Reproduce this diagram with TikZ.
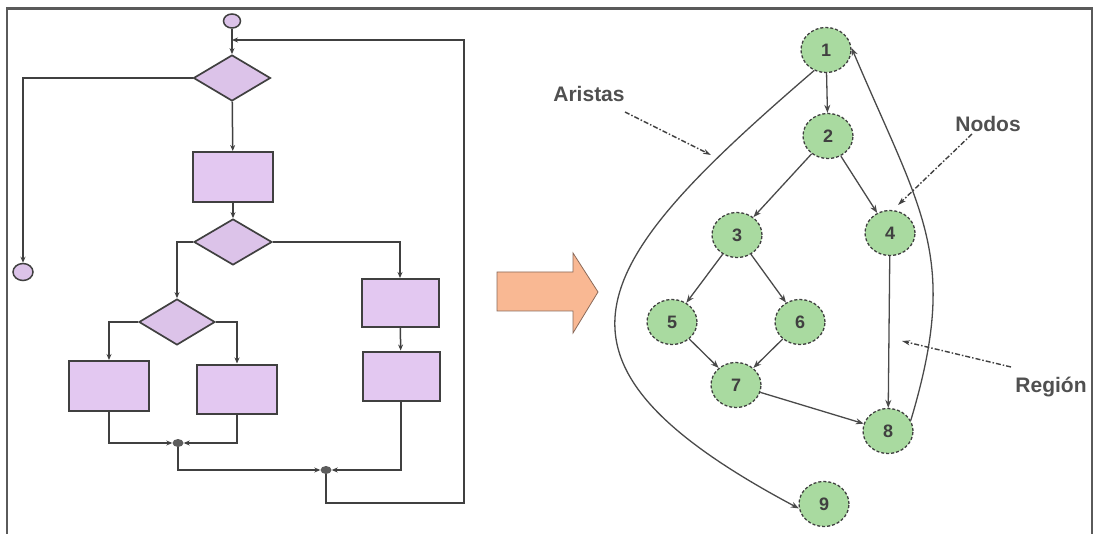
\documentclass[tikz,border=0pt]{standalone}
\usepackage{fontspec}
\setmainfont{Liberation Sans}
\usetikzlibrary{shapes.geometric,arrows.meta}
\definecolor{framecol}{HTML}{5A5A5A}
\definecolor{fline}{HTML}{404040}
\definecolor{boxfill}{HTML}{E3C8F1}
\definecolor{diafill}{HTML}{DCC3E9}
\definecolor{nodefill}{HTML}{A9DAA0}
\definecolor{edgecol}{HTML}{4A4A4A}
\definecolor{arrowfill}{HTML}{F9B893}
\definecolor{arrowline}{HTML}{8A6A5A}
\definecolor{labcol}{HTML}{505050}
\begin{document}
\begin{tikzpicture}[x=1pt,y=-1pt,
  box/.style={draw=fline, line width=2pt, fill=boxfill, inner sep=0pt},
  diam/.style={diamond, draw=fline, line width=1.7pt, fill=diafill, inner sep=0pt, minimum width=77pt, minimum height=46pt},
  term/.style={ellipse, draw=fline, line width=1.5pt, fill=diafill, inner sep=0pt, minimum width=17pt, minimum height=14pt},
  junc/.style={ellipse, fill=fline!85, inner sep=0pt, minimum width=11pt, minimum height=8pt},
  flow/.style={draw=fline, line width=1.5pt, -{Stealth[length=6pt,width=5pt]}},
  gnode/.style={ellipse, draw=fline, densely dashed, line width=1.3pt, fill=nodefill, minimum width=50pt, minimum height=45pt, inner sep=0pt, font=\bfseries\fontsize{18}{18}\selectfont, text=black!75},
  gedge/.style={draw=edgecol, line width=1.3pt, -{Stealth[length=8pt,width=6pt]}},
  pointer/.style={draw=black!75, line width=1.4pt, dash pattern=on 5pt off 2pt on 1.5pt off 2pt, -{Stealth[length=8pt,width=5pt]}},
  lab/.style={font=\bfseries\fontsize{21}{21}\selectfont, text=labcol, inner sep=0pt}
]
\useasboundingbox (0,0) rectangle (1094,534);
\draw[framecol, line width=2.2pt] (7,534) -- (7,8.5) -- (1092,8.5) -- (1092,534);

% ---------- flowchart ----------
\node[term] (s0) at (232,21) {};
\node[diam] (d1) at (232,78) {};
\node[term, minimum width=20pt, minimum height=17pt] (e) at (23,272) {};
\node[box, minimum width=80pt, minimum height=50pt] (r1) at (233,177) {};
\node[diam, minimum width=78pt] (d2) at (233,242) {};
\node[diam, minimum width=76pt] (d3) at (177,322) {};
\node[box, minimum width=77pt, minimum height=48pt] (rr1) at (400,303) {};
\node[box, minimum width=77pt, minimum height=49pt] (rr2) at (401,376) {};
\node[box, minimum width=80pt, minimum height=50pt] (rl) at (109,386) {};
\node[box, minimum width=80pt, minimum height=49pt] (rm) at (237,389) {};
\node[junc] (j1) at (178,443) {};
\node[junc] (j2) at (326,470) {};
\coordinate (ret) at (232,40);
\coordinate (lb) at (464,503);
\coordinate (lt) at (464,40);

\draw[flow] (s0) -- (d1);
\draw[flow] (d1.west) -| (e.north);
\draw[flow] (d1) -- (r1);
\draw[flow] (r1) -- (d2);
\draw[flow] (d2.west) -| (d3.north);
\draw[flow] (d2.east) -| (rr1.north);
\draw[flow] (rr1) -- (rr2);
\draw[flow] (d3.west) -| (rl.north);
\draw[flow] (d3.east) -| (rm.north);
\draw[flow] (rl.south) |- (j1.west);
\draw[flow] (rm.south) |- (j1.east);
\draw[flow] (j1.south) |- (j2.west);
\draw[flow] (rr2.south) |- (j2.east);
\draw[flow] (j2.south) |- (lb) -- (lt) -- (ret);

% ---------- big arrow ----------
\draw[arrowline, fill=arrowfill, line width=0.8pt] (497,272) -- (573,272) -- (573,253) -- (598,292) -- (573,333) -- (573,311) -- (497,311) -- cycle;

% ---------- flow graph ----------
\node[gnode] (n1) at (826,50) {1};
\node[gnode] (n2) at (828,136) {2};
\node[gnode] (n3) at (737,235) {3};
\node[gnode] (n4) at (890,233) {4};
\node[gnode] (n5) at (672,322) {5};
\node[gnode] (n6) at (800,322) {6};
\node[gnode] (n7) at (736,385) {7};
\node[gnode] (n8) at (888,431) {8};
\node[gnode] (n9) at (824,504) {9};

\draw[gedge] (n1) -- (n2);
\draw[gedge] (n2) -- (n3);
\draw[gedge] (n2) -- (n4);
\draw[gedge] (n3) -- (n5);
\draw[gedge] (n3) -- (n6);
\draw[gedge] (n5) -- (n7);
\draw[gedge] (n6) -- (n7);
\draw[gedge] (n7) -- (n8);
\draw[gedge] (n4) -- (n8);
\draw[gedge] (n1.240) .. controls (587,266) and (520,360) .. (n9.190);
\draw[gedge] (n8.25) .. controls (960,256) and (922,214) .. (n1.5);

% ---------- labels ----------
\node[lab, anchor=base] (ar) at (589,102) {Aristas};
\node[lab, anchor=base] (no) at (988,132) {Nodos};
\node[lab, anchor=base] (re) at (1051,392) {Región};
\coordinate (as) at (625,112);
\coordinate (ae) at (711,155);
\coordinate (ns) at (972,134);
\coordinate (ne) at (898,205);
\coordinate (rs) at (1011,367);
\coordinate (rte) at (902,341);
\draw[pointer] (as) -- (ae);
\draw[pointer] (ns) -- (ne);
\draw[pointer] (rs) -- (rte);
\end{tikzpicture}
\end{document}
